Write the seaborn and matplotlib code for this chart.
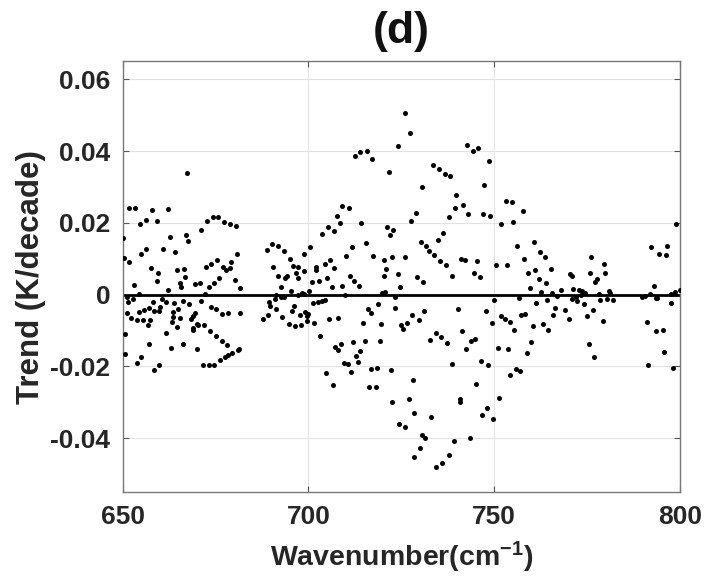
import matplotlib
matplotlib.use("Agg")
import matplotlib.pyplot as plt
import seaborn as sns
import pandas as pd

wavenumber = [
    667.3, 651.8, 653.2, 657.8, 662.3, 654.7, 656.4, 659.3, 671.2, 672.7, 674.2, 675.7, 677.3, 678.9,
    650.1, 662.6, 667.0, 667.6, 656.2, 654.9, 660.8, 664.1, 650.3, 651.6, 657.6, 659.6, 664.7, 666.5,
    666.9, 659.2, 665.5, 665.8, 653.0, 662.1, 669.5, 670.9, 672.4, 673.9, 675.5, 677.1, 677.9, 678.9,
    679.1, 673.1, 674.5, 676.0, 654.3, 651.1, 652.7, 651.4, 658.1, 660.6, 661.7, 663.8, 666.3, 667.8,
    671.0, 672.2, 673.7, 675.1, 676.8, 678.3, 651.1, 652.1, 654.3, 655.7, 657.0, 658.5, 659.8, 660.1,
    653.9, 655.5, 656.8, 657.4, 663.5, 665.0, 663.6, 665.3, 664.6, 663.2, 668.4, 668.9, 669.5, 670.0,
    668.8, 668.8, 670.4, 671.9, 673.4, 675.0, 676.6, 678.1, 679.5, 650.7, 661.6, 657.0, 666.1, 663.1,
    670.0, 650.7, 655.0, 653.8, 658.3, 659.9, 671.6, 673.1, 674.7, 676.2, 677.6, 678.3,
    680.5, 680.8, 680.1, 681.7, 681.6, 680.9, 681.3, 687.7, 689.0, 688.8, 690.1, 691.7, 693.3, 694.9,
    695.8, 697.3, 696.7, 690.4, 691.9, 693.8, 694.2, 692.6, 695.3, 691.2, 690.9, 692.7, 693.4, 689.5,
    689.7, 691.3, 693.0, 694.7, 696.4, 697.9, 695.5, 696.1, 697.3, 698.3, 698.8, 699.2, 699.6, 700.0,
    699.6, 697.8, 697.2, 698.8, 698.9, 700.5, 701.0, 700.2, 701.6, 701.2, 702.6, 703.7, 704.4, 702.1,
    702.1, 702.9, 703.1, 703.7, 705.3, 706.8, 707.7, 708.4, 709.1, 704.5, 705.9, 707.0, 705.1, 706.2,
    705.6, 707.9, 707.2, 707.9, 708.8, 704.7, 706.5,
    727.2, 724.2, 712.5, 714.0, 715.8, 717.2, 721.6, 733.5, 735.1, 736.7, 738.2, 730.5, 710.8, 714.2,
    721.2, 722.8, 722.0, 727.6, 729.0, 737.8, 736.3, 734.9, 730.2, 731.7, 732.4, 733.9, 735.4, 736.9,
    738.5, 711.6, 715.5, 710.2, 717.5, 720.4, 722.5, 726.1, 721.0, 720.2, 724.0, 711.1, 712.3, 713.5,
    709.0, 729.3, 730.9, 724.6, 709.8, 719.8, 720.6, 723.2, 718.6, 716.1, 716.9, 723.4, 714.8, 719.4,
    724.8, 725.4, 726.4, 728.0, 729.7, 731.2, 711.9, 715.1, 719.3, 713.8, 712.9, 713.2, 709.6, 710.6,
    711.4, 716.7, 718.5, 722.2, 728.1, 716.4, 718.1, 732.8, 734.2, 735.8, 737.3, 738.7,
    726.0, 728.3, 729.9, 734.4, 736.0, 724.5, 726.0, 727.0, 728.5, 730.5, 731.5, 733.0, 722.5,
    742.7, 744.2, 745.7, 748.6, 747.3, 739.8, 741.6, 739.5, 743.0, 747.0, 748.9, 753.1, 754.7, 757.7,
    751.8, 755.1, 756.0, 760.7, 762.3, 763.7, 758.0, 765.3, 759.0, 761.0, 762.0, 763.9, 741.0, 742.0,
    745.4, 744.5, 746.1, 750.6, 753.4, 759.6, 762.6, 765.5, 766.8, 768.0, 756.7, 749.9, 761.3, 764.2,
    766.3, 765.9, 740.3, 747.7, 749.3, 751.9, 752.8, 754.3, 755.4, 757.3, 758.4, 760.4, 763.0, 764.6,
    741.4, 742.3, 743.8, 744.7, 746.4, 748.3, 750.9, 753.8, 758.7, 759.9, 754.2, 755.8, 757.0, 745.2,
    740.7, 740.9, 746.8, 748.1, 749.6, 751.2, 739.3, 743.6, 737.8,
    770.4, 770.8, 769.0, 770.0, 771.3, 770.9, 772.4, 772.7, 773.3, 773.6, 774.1, 774.3, 771.9, 776.0,
    775.8, 777.0, 777.6, 779.6, 779.8, 775.1, 776.5, 775.4, 776.8, 778.1, 778.5, 779.2, 780.3, 780.8,
    781.2, 782.0, 789.8, 790.7, 791.8, 792.9, 793.5, 793.9, 791.0, 793.6, 795.5, 795.8, 791.5, 798.1,
    792.2, 794.4, 796.2, 796.4, 797.5, 799.0, 797.7, 798.6, 799.9,
]

trend = [
    0.0340, 0.0240, 0.0242, 0.0237, 0.0239, 0.0198, 0.0209, 0.0206, 0.0181, 0.0206, 0.0215, 0.0215, 0.0203, 0.0197,
    0.0159, 0.0161, 0.0165, 0.0150, 0.0127, 0.0112, 0.0127, 0.0120, 0.0102, 0.0092, 0.0073, 0.0061, 0.0068, 0.0070,
    0.0049, 0.0039, 0.0031, 0.0020, 0.0026, 0.0014, 0.0029, 0.0033, 0.0076, 0.0086, 0.0095, 0.0078, 0.0068, 0.0074,
    0.0092, 0.0021, 0.0032, 0.0045, 0.0001, -0.0008, -0.0011, -0.0021, -0.0020, -0.0011, -0.0020, -0.0023, -0.0018, -0.0027,
    -0.0017, 0.0001, -0.0034, -0.0041, -0.0053, -0.0050, -0.0051, -0.0064, -0.0048, -0.0042, -0.0036, -0.0045, -0.0045, -0.0035,
    -0.0071, -0.0072, -0.0084, -0.0070, -0.0048, -0.0040, -0.0062, -0.0066, -0.0089, -0.0076, -0.0067, -0.0059, -0.0051, -0.0081,
    -0.0092, -0.0100, -0.0086, -0.0085, -0.0101, -0.0116, -0.0130, -0.0141, -0.0162, -0.0109, -0.0107, -0.0137, -0.0137, -0.0149,
    -0.0151, -0.0166, -0.0175, -0.0191, -0.0209, -0.0197, -0.0195, -0.0195, -0.0195, -0.0182, -0.0175, -0.0169,
    0.0190, 0.0114, 0.0040, 0.0019, -0.0051, -0.0155, -0.0151, -0.0068, -0.0058, 0.0123, 0.0140, 0.0135, 0.0122, 0.0098,
    0.0079, 0.0077, 0.0061, 0.0077, 0.0053, 0.0047, 0.0051, 0.0022, 0.0010, -0.0002, -0.0011, -0.0008, -0.0008, -0.0020,
    -0.0032, -0.0039, -0.0062, -0.0081, -0.0088, -0.0084, -0.0045, -0.0032, 0.0000, 0.0005, 0.0002, -0.0048, -0.0060, -0.0054,
    -0.0074, -0.0056, 0.0046, 0.0066, 0.0114, 0.0134, 0.0036, 0.0009, -0.0079, -0.0023, -0.0020, -0.0019, -0.0016, 0.0077,
    0.0068, 0.0039, -0.0116, 0.0170, 0.0188, 0.0177, 0.0218, 0.0199, 0.0247, 0.0086, 0.0096, 0.0075, 0.0047, 0.0021,
    -0.0068, -0.0065, -0.0146, -0.0155, -0.0137, -0.0218, -0.0253,
    0.0451, 0.0414, 0.0385, 0.0396, 0.0400, 0.0379, 0.0341, 0.0360, 0.0351, 0.0337, 0.0331, 0.0300, 0.0242, 0.0200,
    0.0187, 0.0179, 0.0167, 0.0205, 0.0226, 0.0216, 0.0173, 0.0151, 0.0147, 0.0136, 0.0121, 0.0111, 0.0093, 0.0082,
    0.0051, 0.0134, 0.0144, 0.0108, 0.0107, 0.0097, 0.0105, 0.0105, 0.0071, 0.0052, 0.0056, 0.0053, 0.0038, 0.0023,
    0.0024, 0.0048, 0.0035, 0.0020, 0.0000, 0.0005, 0.0008, -0.0006, -0.0026, -0.0041, -0.0050, -0.0037, -0.0078, -0.0082,
    -0.0086, -0.0096, -0.0079, -0.0056, -0.0071, -0.0047, -0.0132, -0.0130, -0.0129, -0.0158, -0.0172, -0.0189, -0.0190, -0.0192,
    -0.0217, -0.0207, -0.0205, -0.0211, -0.0239, -0.0257, -0.0257, -0.0127, -0.0106, -0.0118, -0.0134, -0.0192,
    0.0505, -0.0453, -0.0427, -0.0480, -0.0469, -0.0360, -0.0370, -0.0290, -0.0330, -0.0390, -0.0400, -0.0340, -0.0300,
    0.0418, 0.0401, 0.0409, 0.0371, 0.0304, 0.0277, 0.0251, 0.0242, 0.0225, 0.0224, 0.0218, 0.0260, 0.0258, 0.0233,
    0.0198, 0.0203, 0.0136, 0.0147, 0.0119, 0.0106, 0.0100, 0.0072, 0.0060, 0.0068, 0.0043, 0.0032, 0.0099, 0.0096,
    0.0094, 0.0061, 0.0049, 0.0082, 0.0083, 0.0017, 0.0007, 0.0005, -0.0005, 0.0013, -0.0010, -0.0016, -0.0024, -0.0016,
    -0.0036, -0.0058, -0.0040, -0.0046, -0.0080, -0.0060, -0.0067, -0.0076, -0.0100, -0.0056, -0.0054, -0.0088, -0.0081, -0.0098,
    -0.0102, -0.0152, -0.0129, -0.0124, -0.0185, -0.0197, -0.0149, -0.0152, -0.0162, -0.0133, -0.0223, -0.0206, -0.0212, -0.0249,
    -0.0292, -0.0300, -0.0335, -0.0315, -0.0347, -0.0287, -0.0408, -0.0400, -0.0447,
    0.0056, 0.0052, -0.0044, -0.0067, 0.0015, -0.0013, -0.0019, 0.0012, -0.0002, 0.0009, -0.0025, 0.0005, -0.0007, 0.0104,
    0.0059, 0.0035, 0.0043, 0.0084, 0.0061, -0.0061, -0.0042, -0.0139, -0.0174, 0.0003, -0.0014, -0.0073, -0.0013, 0.0011,
    0.0004, -0.0015, -0.0006, -0.0005, 0.0003, 0.0024, -0.0010, -0.0010, -0.0077, -0.0102, -0.0098, -0.0160, -0.0196, -0.0204,
    0.0133, 0.0113, 0.0109, 0.0136, -0.0023, 0.0198, 0.0003, 0.0007, 0.0014,
]

x_ticks = [650, 700, 750, 800]
y_ticks = [-0.04, -0.02, 0, 0.02, 0.04, 0.06]
y_tick_labels = ["-0.04", "-0.02", "0", "0.02", "0.04", "0.06"]

df = pd.DataFrame({"Wavenumber": wavenumber, "Trend": trend})

sns.set_theme(style="white")
plt.rcParams["font.family"] = ["Liberation Sans", "DejaVu Sans"]
plt.rcParams["font.weight"] = "bold"
plt.rcParams["mathtext.fontset"] = "custom"
plt.rcParams["mathtext.rm"] = "Liberation Sans:bold"
plt.rcParams["mathtext.bf"] = "Liberation Sans:bold"
plt.rcParams["mathtext.default"] = "bf"

fig = plt.figure(figsize=(7.05, 5.81), dpi=100)
ax = fig.add_axes([122.7 / 705, 1 - 492 / 581, (680 - 122.7) / 705, (492 - 61.3) / 581])

ax.grid(True, color="#e3e3e3", linewidth=0.8)
ax.set_axisbelow(True)
ax.axhline(0, color="black", linewidth=2.0, zorder=2)
sns.scatterplot(data=df, x="Wavenumber", y="Trend", ax=ax, color="black",
                s=13, edgecolor="black", linewidth=0, zorder=3, legend=False)

ax.set_xlim(650, 800)
ax.set_ylim(-0.055, 0.065)
ax.set_xticks(x_ticks)
ax.set_xticklabels([str(t) for t in x_ticks])
ax.set_yticks(y_ticks)
ax.set_yticklabels(y_tick_labels)
ax.tick_params(axis="both", direction="in", length=4, width=0.8, color="#555555",
               labelsize=19, pad=9, top=True, right=True, bottom=True, left=True)
for lab in ax.get_xticklabels() + ax.get_yticklabels():
    lab.set_fontweight("bold")
    lab.set_color("#262626")
for sp in ax.spines.values():
    sp.set_color("#777777")
    sp.set_linewidth(1.0)

ax.set_xlabel("Wavenumber(cm$^{-1}$)", fontsize=20.5, fontweight="bold", color="#262626", labelpad=8)
ax.set_ylabel("Trend (K/decade)", fontsize=22.5, fontweight="bold", color="#262626", labelpad=3)
fig.text((122.7 + 680) / 2 / 705, 1 - 31 / 581, "(d)", fontsize=32, fontweight="bold",
         color="#111111", ha="center", va="center")

fig.savefig("out.png", dpi=100)
